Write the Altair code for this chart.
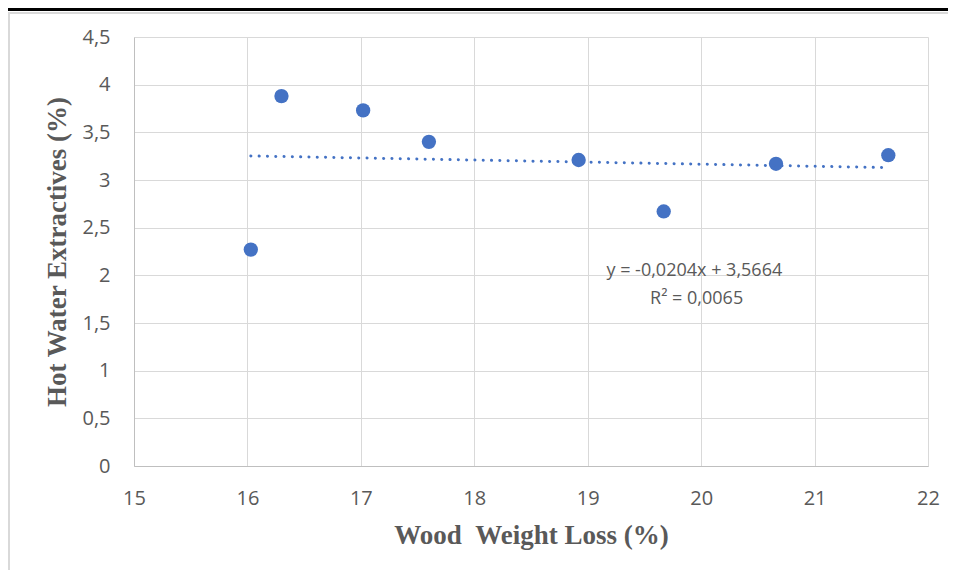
import altair as alt
import pandas as pd

# data
weight_loss = [16.03, 16.30, 17.02, 17.60, 18.92, 19.67, 20.66, 21.65]
extractives = [2.27, 3.88, 3.73, 3.40, 3.21, 2.67, 3.17, 3.26]
x_ticks = [15, 16, 17, 18, 19, 20, 21, 22]
y_ticks = [0, 0.5, 1, 1.5, 2, 2.5, 3, 3.5, 4, 4.5]
eq_lines = ["y = -0,0204x + 3,5664", "R² = 0,0065"]
eq_x = [19.94, 19.96]
eq_y = [2.05, 1.75]

df = pd.DataFrame({"x": weight_loss, "y": extractives})
eq_df = pd.DataFrame({"x": eq_x, "y": eq_y, "t": eq_lines})

W, H = 794, 429
PAD_L, PAD_T = 126, 29
GRID = "#d9d9d9"
TXT = "#595959"
LABEL_FONT = "Open Sans"
LBL_EXPR = "replace(format(datum.value, '~g'), '.', ',')"

xscale = alt.Scale(domain=[15, 22], nice=False, zero=False)
yscale = alt.Scale(domain=[0, 4.5], nice=False)

xaxis = alt.Axis(
    values=x_ticks, grid=True, gridColor=GRID, ticks=False, domain=True,
    domainColor="#bfbfbf", labelFont=LABEL_FONT, labelFontSize=20, labelColor=TXT,
    labelPadding=32, labelBaseline="middle", labelExpr=LBL_EXPR, labelFlush=False,
    title="Wood\u00a0\u00a0Weight Loss (%)", titleFont="Liberation Serif",
    titleFontSize=27, titleFontWeight="bold", titleColor=TXT,
    titleY=69, titleBaseline="middle",
)
yaxis = alt.Axis(
    values=y_ticks, grid=True, gridColor=GRID, ticks=False, domain=True,
    domainColor="#bfbfbf", labelFont=LABEL_FONT, labelFontSize=20, labelColor=TXT,
    labelPadding=24, labelExpr=LBL_EXPR, labelFlush=False, labelBaseline="middle",
    title="Hot Water Extractives (%)", titleFont="Liberation Serif",
    titleFontSize=27, titleFontWeight="bold", titleColor=TXT,
    titleX=-77, titleBaseline="middle", titleAngle=-90,
)

base = alt.Chart(df)

points = base.mark_circle(size=205, color="#4472C4", opacity=1).encode(
    x=alt.X("x:Q", scale=xscale, axis=xaxis),
    y=alt.Y("y:Q", scale=yscale, axis=yaxis),
)

trend = base.transform_regression("x", "y").mark_line(
    color="#4472C4", strokeWidth=3, strokeDash=[0.1, 8.2], strokeCap="round"
).encode(x="x:Q", y="y:Q")

eq = alt.Chart(eq_df).mark_text(
    font=LABEL_FONT, fontSize=18, color=TXT, align="center", baseline="middle"
).encode(x="x:Q", y="y:Q", text="t:N")

frame_top_black = alt.Chart(df).mark_rule(color="#000000", strokeWidth=3).encode(
    x=alt.value(-PAD_L - 10), x2=alt.value(W + 60), y=alt.value(-PAD_T + 1.5)
)
frame_top_gray = alt.Chart(df).mark_rule(color="#d9d9d9", strokeWidth=1.5).encode(
    x=alt.value(-PAD_L + 0.5), x2=alt.value(W + 60), y=alt.value(-PAD_T + 5)
)
frame_left = alt.Chart(df).mark_rule(color="#d9d9d9", strokeWidth=1.5).encode(
    x=alt.value(-PAD_L + 1), y=alt.value(-PAD_T + 5), y2=alt.value(H + 120)
)

chart = alt.layer(frame_top_black, frame_top_gray, frame_left, points, trend, eq).properties(
    width=W, height=H,
    autosize=alt.AutoSizeParams(type="none"),
    padding={"left": PAD_L, "top": PAD_T, "right": 20, "bottom": 104},
).configure_view(stroke=None)

chart.save("out.html", embed_options={"renderer": "svg", "actions": False})
